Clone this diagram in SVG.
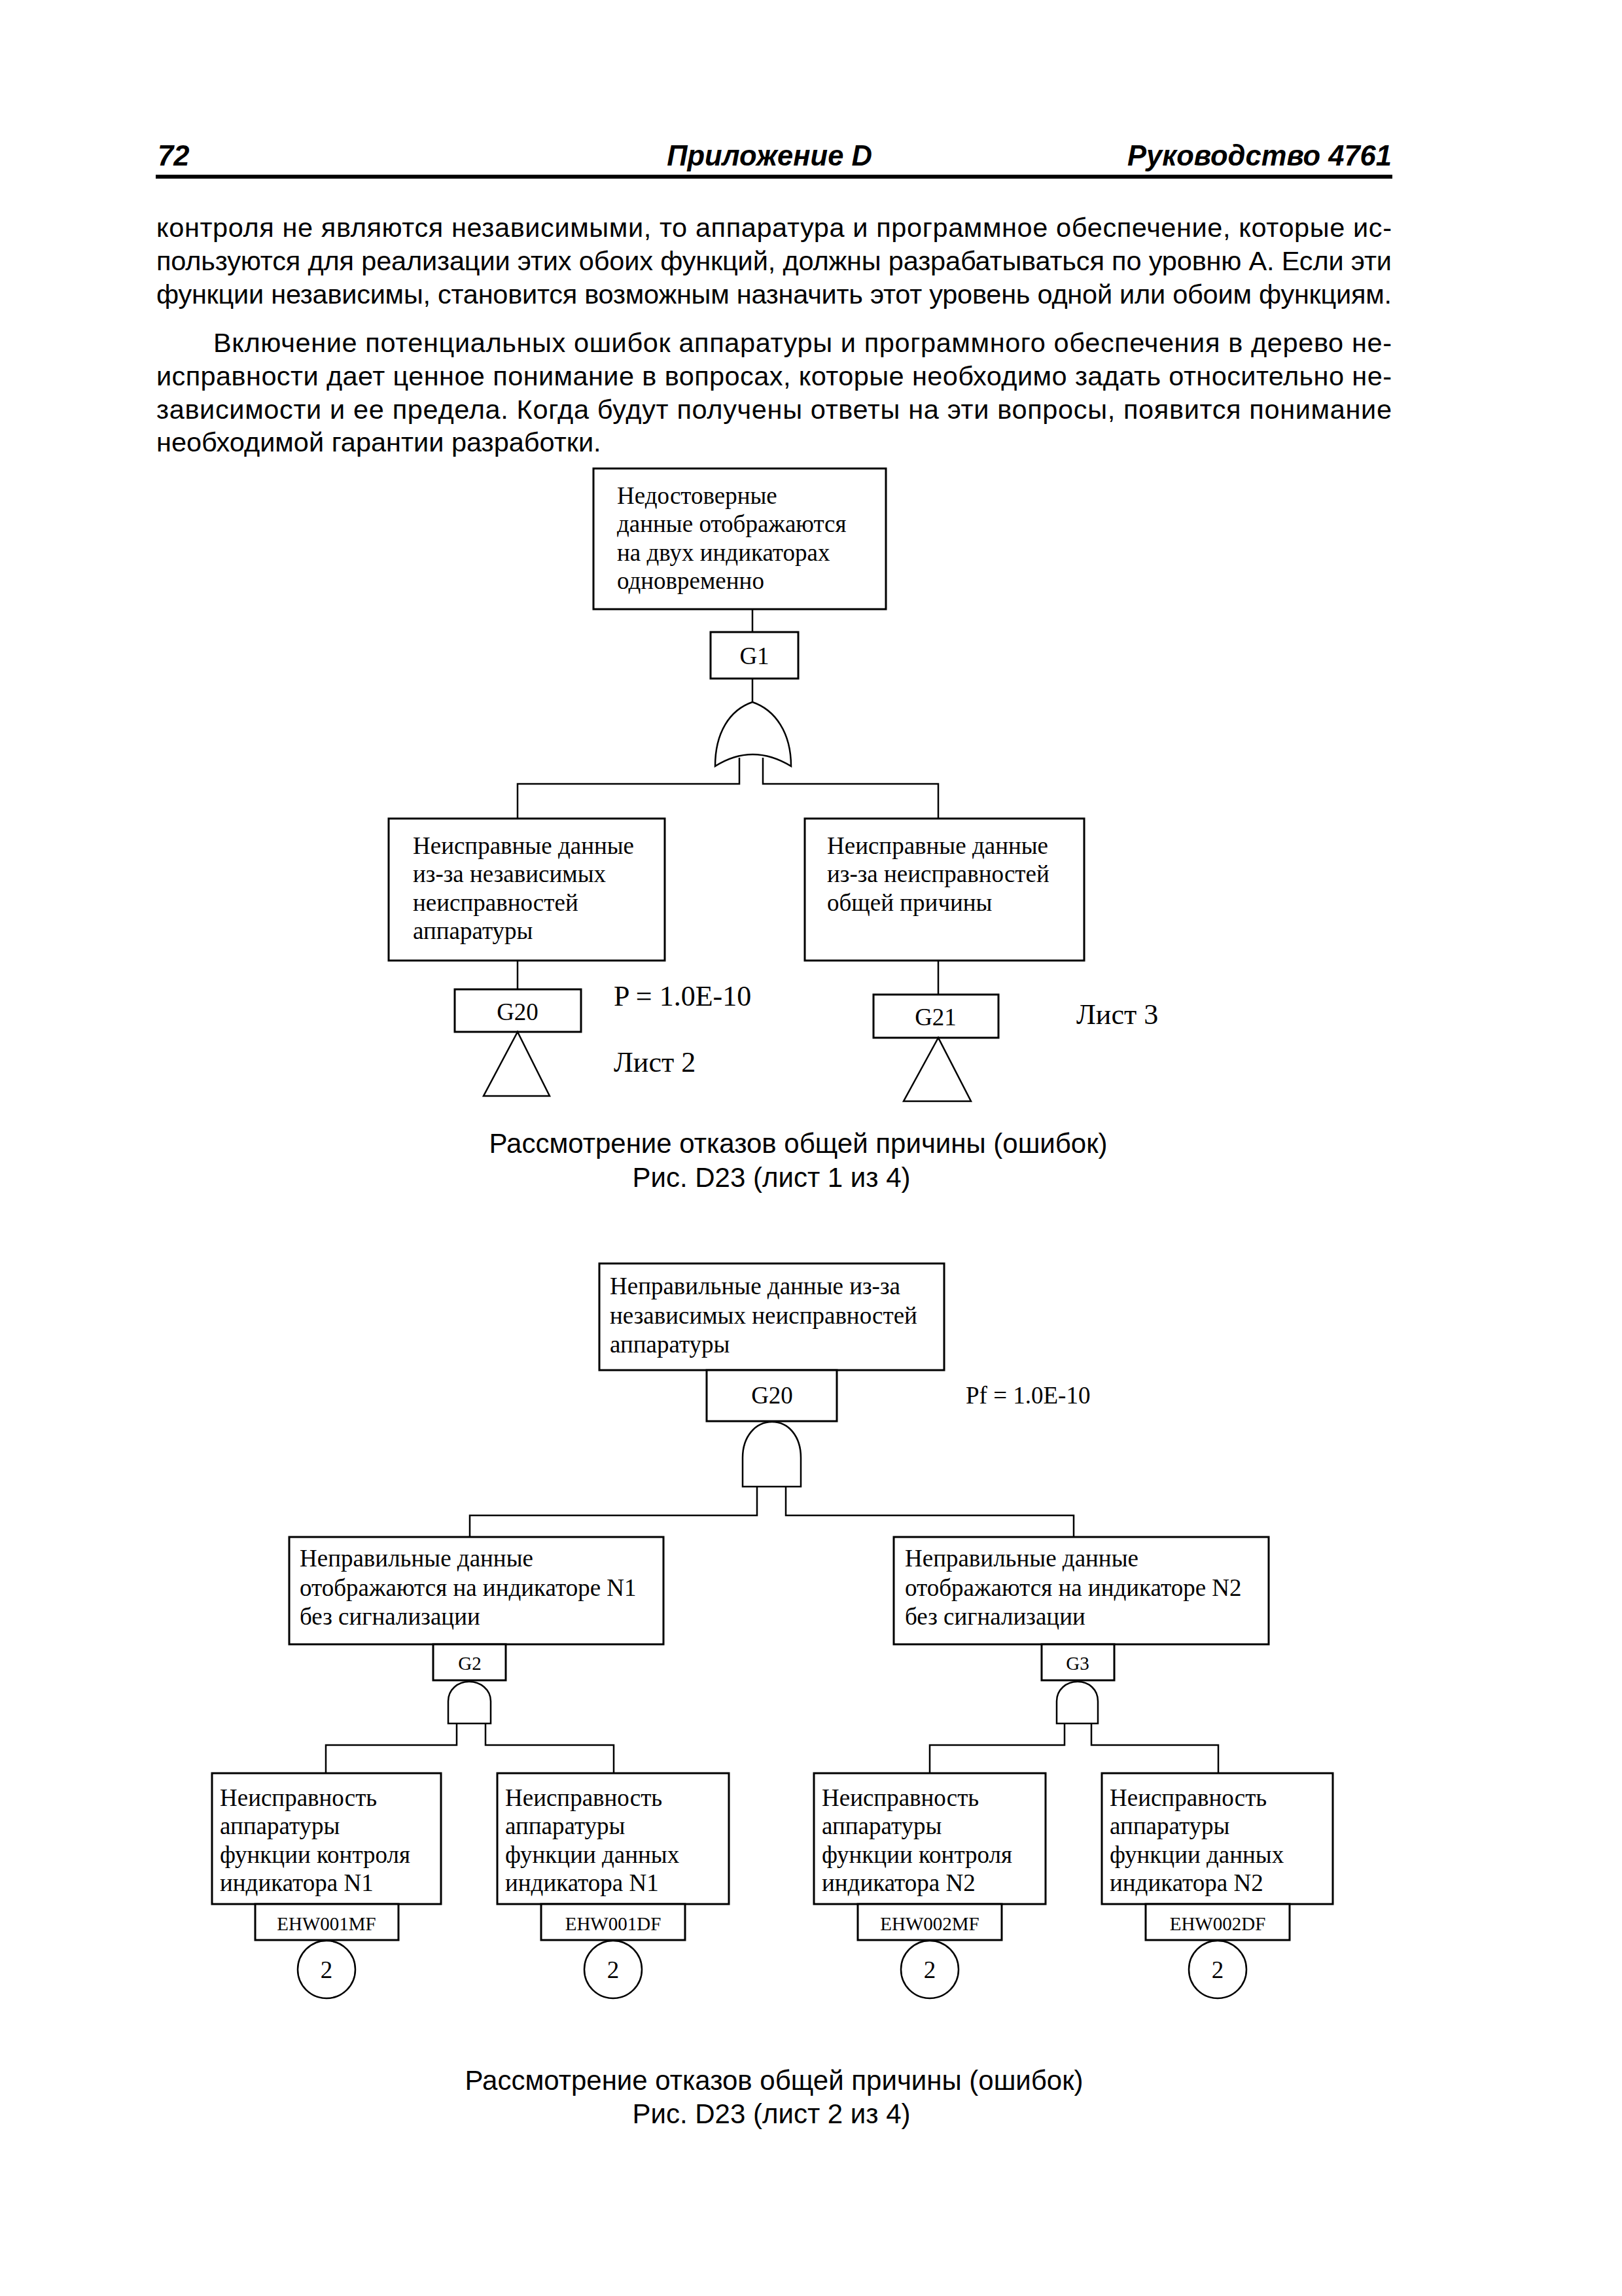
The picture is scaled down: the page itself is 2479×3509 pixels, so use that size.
<svg xmlns="http://www.w3.org/2000/svg" width="2479" height="3509" viewBox="0 0 2479 3509">
<style>
.bg{fill:#ffffff}
.hdr{font-family:"Liberation Sans",Arial,sans-serif;font-weight:bold;font-style:italic;font-size:43.5px;fill:#000}
.body{font-family:"Liberation Sans",Arial,sans-serif;font-size:41.5px;fill:#000}
.cap{font-family:"Liberation Sans",Arial,sans-serif;font-size:42px;fill:#000;text-anchor:middle}
.box{fill:#fff;stroke:#000;stroke-width:3}
.gate{fill:#fff;stroke:#000;stroke-width:2.5}
.t{font-family:"Liberation Serif","Times New Roman",serif;font-size:37px;fill:#000}
.tc{font-family:"Liberation Serif","Times New Roman",serif;font-size:37px;fill:#000;text-anchor:middle}
.ts{font-family:"Liberation Serif","Times New Roman",serif;font-size:29px;fill:#000;text-anchor:middle}
.tl{font-family:"Liberation Serif","Times New Roman",serif;font-size:44px;fill:#000}
.conn{fill:none;stroke:#000;stroke-width:2.5}
</style>
<rect class="bg" x="0" y="0" width="2479" height="3509"/>

<g id="header">
<text class="hdr" x="241" y="253">72</text>
<text class="hdr" x="1176" y="253" text-anchor="middle">Приложение D</text>
<text class="hdr" x="2127" y="253" text-anchor="end">Руководство 4761</text>
<rect x="238" y="267" width="1890" height="6" fill="#000"/>
</g>

<g id="bodytext">
<text class="body" x="239" y="362" textLength="1888" lengthAdjust="spacing">контроля не являются независимыми, то аппаратура и программное обеспечение, которые ис-</text>
<text class="body" x="239" y="413" textLength="1888" lengthAdjust="spacing">пользуются для реализации этих обоих функций, должны разрабатываться по уровню А. Если эти</text>
<text class="body" x="239" y="464" textLength="1888" lengthAdjust="spacing">функции независимы, становится возможным назначить этот уровень одной или обоим функциям.</text>
<text class="body" x="326" y="538" textLength="1801" lengthAdjust="spacing">Включение потенциальных ошибок аппаратуры и программного обеспечения в дерево не-</text>
<text class="body" x="239" y="589" textLength="1888" lengthAdjust="spacing">исправности дает ценное понимание в вопросах, которые необходимо задать относительно не-</text>
<text class="body" x="239" y="640" textLength="1888" lengthAdjust="spacing">зависимости и ее предела. Когда будут получены ответы на эти вопросы, появится понимание</text>
<text class="body" x="239" y="690">необходимой гарантии разработки.</text>
</g>

<!-- Figure 1 -->
<g id="fig1-connectors">
<line class="conn" x1="1150" y1="931" x2="1150" y2="966"/>
<line class="conn" x1="1150" y1="1037" x2="1150" y2="1073"/>
<polyline class="conn" points="1130,1158 1130,1198 791,1198 791,1251"/>
<polyline class="conn" points="1166,1158 1166,1198 1434,1198 1434,1251"/>
<line class="conn" x1="791" y1="1468" x2="791" y2="1512"/>
<line class="conn" x1="1434" y1="1468" x2="1434" y2="1520"/>
</g>

<g id="f1-top">
<rect class="box" x="907" y="716" width="447" height="215"/>
<text class="t" x="943" y="770">Недостоверные</text>
<text class="t" x="943" y="813">данные отображаются</text>
<text class="t" x="943" y="857">на двух индикаторах</text>
<text class="t" x="943" y="900">одновременно</text>
</g>
<g id="f1-G1">
<rect class="box" x="1086" y="966" width="134" height="71"/>
<text class="tc" x="1153" y="1015">G1</text>
</g>
<g id="f1-or-gate">
<path class="gate" d="M1093,1171 C1093,1120 1115,1085 1150,1073 C1185,1085 1209,1120 1209,1171 Q1150,1135 1093,1171 Z"/>
</g>
<g id="f1-left">
<rect class="box" x="594" y="1251" width="422" height="217"/>
<text class="t" x="631" y="1305">Неисправные данные</text>
<text class="t" x="631" y="1348">из-за независимых</text>
<text class="t" x="631" y="1392">неисправностей</text>
<text class="t" x="631" y="1435">аппаратуры</text>
</g>
<g id="f1-right">
<rect class="box" x="1230" y="1251" width="427" height="217"/>
<text class="t" x="1264" y="1305">Неисправные данные</text>
<text class="t" x="1264" y="1348">из-за неисправностей</text>
<text class="t" x="1264" y="1392">общей причины</text>
</g>
<g id="f1-G20">
<rect class="box" x="695" y="1512" width="193" height="65"/>
<text class="tc" x="791" y="1559">G20</text>
<path class="gate" d="M791,1577 L739,1675 L840,1675 Z"/>
<text class="tl" x="938" y="1537">P = 1.0E-10</text>
<text class="tl" x="938" y="1638">Лист 2</text>
</g>
<g id="f1-G21">
<rect class="box" x="1335" y="1520" width="191" height="66"/>
<text class="tc" x="1430" y="1567">G21</text>
<path class="gate" d="M1434,1586 L1381,1683 L1484,1683 Z"/>
<text class="tl" x="1645" y="1565">Лист 3</text>
</g>
<g id="caption1">
<text class="cap" x="1220" y="1762">Рассмотрение отказов общей причины (ошибок)</text>
<text class="cap" x="1179" y="1814">Рис. D23 (лист 1 из 4)</text>
</g>

<!-- Figure 2 -->
<g id="fig2-connectors">
<polyline class="conn" points="1157,2272 1157,2316 718,2316 718,2349"/>
<polyline class="conn" points="1201,2272 1201,2316 1641,2316 1641,2349"/>
<polyline class="conn" points="698,2634 698,2667 498,2667 498,2710"/>
<polyline class="conn" points="742,2634 742,2667 938,2667 938,2710"/>
<polyline class="conn" points="1627,2634 1627,2667 1421,2667 1421,2710"/>
<polyline class="conn" points="1668,2634 1668,2667 1862,2667 1862,2710"/>
</g>

<g id="f2-top">
<rect class="box" x="916" y="1931" width="527" height="163"/>
<text class="t" x="932" y="1978">Неправильные данные из-за</text>
<text class="t" x="932" y="2023">независимых неисправностей</text>
<text class="t" x="932" y="2067">аппаратуры</text>
</g>
<g id="f2-G20">
<rect class="box" x="1080" y="2094" width="199" height="78"/>
<text class="tc" x="1180" y="2145">G20</text>
<text class="t" x="1476" y="2145">Pf = 1.0E-10</text>
</g>
<g id="f2-and-G20">
<path class="gate" d="M1135,2272 L1135,2228 C1135,2195 1155,2173 1180,2173 C1205,2173 1224,2195 1224,2228 L1224,2272 Z"/>
</g>

<g id="f2-N1">
<rect class="box" x="442" y="2349" width="572" height="164"/>
<text class="t" x="458" y="2394">Неправильные данные</text>
<text class="t" x="458" y="2439">отображаются на индикаторе N1</text>
<text class="t" x="458" y="2483">без сигнализации</text>
</g>
<g id="f2-G2">
<rect class="box" x="662" y="2513" width="111" height="55"/>
<text class="ts" x="718" y="2552">G2</text>
<path class="gate" d="M685,2634 L685,2600 C685,2582 700,2570 717,2570 C734,2570 750,2582 750,2600 L750,2634 Z"/>
</g>
<g id="f2-N2">
<rect class="box" x="1366" y="2349" width="573" height="164"/>
<text class="t" x="1383" y="2394">Неправильные данные</text>
<text class="t" x="1383" y="2439">отображаются на индикаторе N2</text>
<text class="t" x="1383" y="2483">без сигнализации</text>
</g>
<g id="f2-G3">
<rect class="box" x="1592" y="2513" width="111" height="55"/>
<text class="ts" x="1647" y="2552">G3</text>
<path class="gate" d="M1615,2634 L1615,2600 C1615,2582 1630,2570 1647,2570 C1664,2570 1678,2582 1678,2600 L1678,2634 Z"/>
</g>

<g id="f2-EHW001MF">
<rect class="box" x="324" y="2710" width="350" height="200"/>
<text class="t" x="336" y="2760">Неисправность</text>
<text class="t" x="336" y="2803">аппаратуры</text>
<text class="t" x="336" y="2847">функции контроля</text>
<text class="t" x="336" y="2890">индикатора N1</text>
<rect class="box" x="390" y="2910" width="219" height="55"/>
<text class="ts" x="499" y="2950">EHW001MF</text>
<circle class="gate" cx="499" cy="3010" r="44"/>
<text class="tc" x="499" y="3023">2</text>
</g>
<g id="f2-EHW001DF">
<rect class="box" x="760" y="2710" width="354" height="200"/>
<text class="t" x="772" y="2760">Неисправность</text>
<text class="t" x="772" y="2803">аппаратуры</text>
<text class="t" x="772" y="2847">функции данных</text>
<text class="t" x="772" y="2890">индикатора N1</text>
<rect class="box" x="827" y="2910" width="220" height="55"/>
<text class="ts" x="937" y="2950">EHW001DF</text>
<circle class="gate" cx="937" cy="3010" r="44"/>
<text class="tc" x="937" y="3023">2</text>
</g>
<g id="f2-EHW002MF">
<rect class="box" x="1244" y="2710" width="354" height="200"/>
<text class="t" x="1256" y="2760">Неисправность</text>
<text class="t" x="1256" y="2803">аппаратуры</text>
<text class="t" x="1256" y="2847">функции контроля</text>
<text class="t" x="1256" y="2890">индикатора N2</text>
<rect class="box" x="1311" y="2910" width="220" height="55"/>
<text class="ts" x="1421" y="2950">EHW002MF</text>
<circle class="gate" cx="1421" cy="3010" r="44"/>
<text class="tc" x="1421" y="3023">2</text>
</g>
<g id="f2-EHW002DF">
<rect class="box" x="1684" y="2710" width="353" height="200"/>
<text class="t" x="1696" y="2760">Неисправность</text>
<text class="t" x="1696" y="2803">аппаратуры</text>
<text class="t" x="1696" y="2847">функции данных</text>
<text class="t" x="1696" y="2890">индикатора N2</text>
<rect class="box" x="1751" y="2910" width="220" height="55"/>
<text class="ts" x="1861" y="2950">EHW002DF</text>
<circle class="gate" cx="1861" cy="3010" r="44"/>
<text class="tc" x="1861" y="3023">2</text>
</g>

<g id="caption2">
<text class="cap" x="1183" y="3194">Рассмотрение отказов общей причины (ошибок)</text>
<text class="cap" x="1179" y="3245">Рис. D23 (лист 2 из 4)</text>
</g>
</svg>
